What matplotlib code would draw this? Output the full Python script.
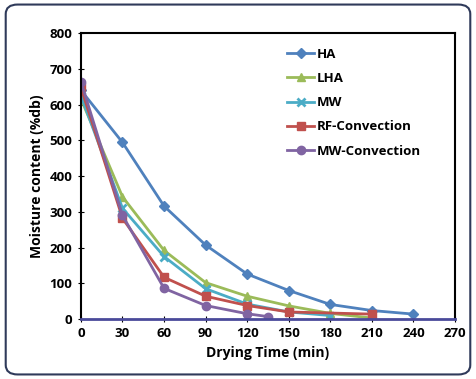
import matplotlib
matplotlib.use("Agg")
import matplotlib.pyplot as plt
from matplotlib.patches import FancyBboxPatch

plt.rcParams['font.family'] = ['Open Sans', 'DejaVu Sans']
plt.rcParams['font.weight'] = 'bold'

# data
t_ha = [0, 30, 60, 90, 120, 150, 180, 210, 240]
ha = [640, 494, 316, 207, 126, 80, 41, 24, 14]
t_lha = [0, 30, 60, 90, 120, 150, 180, 210]
lha = [616, 342, 192, 102, 64, 37, 16, 3]
t_mw = [0, 30, 60, 90, 120, 150, 180]
mw = [625, 310, 175, 85, 42, 20, 10]
t_rf = [0, 30, 60, 90, 120, 150, 210]
rf = [648, 282, 117, 64, 38, 20, 14]
t_mwc = [0, 30, 60, 90, 120, 135]
mwc = [664, 290, 86, 38, 15, 7]

fig = plt.figure(figsize=(4.76, 3.79), dpi=100)
border = FancyBboxPatch((0.012, 0.012), 0.976, 0.976, boxstyle="round,pad=0,rounding_size=0.025",
                        transform=fig.transFigure, facecolor='none', edgecolor='#2f3a5a',
                        linewidth=1.5, zorder=-1)
fig.patches.append(border)

ax = fig.add_axes([0.170, 0.158, 0.786, 0.755])
ax.plot(t_ha, ha, color='#4F81BD', marker='D', markersize=5, lw=2, label='HA')
ax.plot(t_lha, lha, color='#9BBB59', marker='^', markersize=6, lw=2, label='LHA')
ax.plot(t_mw, mw, color='#4BACC6', marker='x', markersize=6, mew=2, lw=2, label='MW')
ax.plot(t_rf, rf, color='#C0504D', marker='s', markersize=6, lw=2, label='RF-Convection')
ax.plot(t_mwc, mwc, color='#8064A2', marker='o', markersize=6, lw=2, label='MW-Convection')

ax.set_xlim(0, 270)
ax.set_ylim(0, 800)
ax.set_xticks(range(0, 271, 30))
ax.set_yticks(range(0, 801, 100))
ax.tick_params(direction='inout', length=5, labelsize=9.5)
for s in ax.spines.values():
    s.set_linewidth(1.5)
ax.spines['bottom'].set_color('#4a4a9a')
ax.spines['bottom'].set_linewidth(2)

ax.set_xlabel('Drying Time (min)', fontsize=10, fontweight='bold')
ax.set_ylabel('Moisture content (%db)', fontsize=10, fontweight='bold')

ax.legend(loc='upper left', bbox_to_anchor=(0.52, 0.99), frameon=False, fontsize=9.5,
          handlelength=2, handletextpad=0.2, labelspacing=0.85)

plt.savefig('out.png', dpi=100)
